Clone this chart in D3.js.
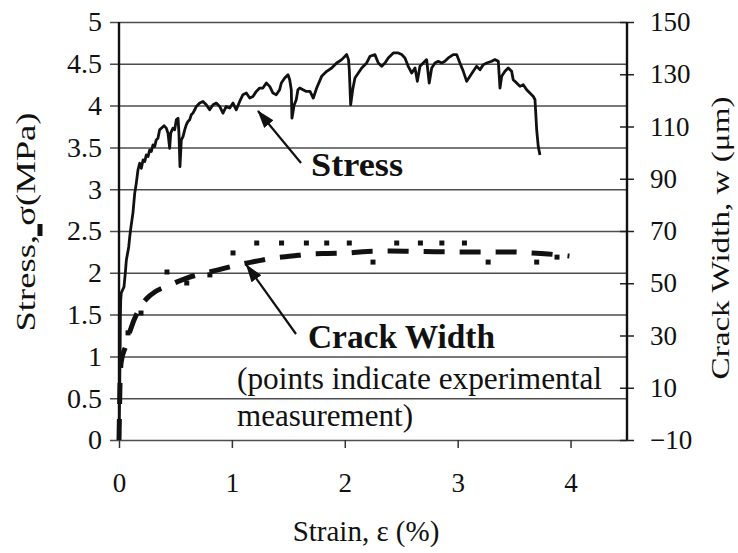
<!DOCTYPE html>
<html>
<head>
<meta charset="utf-8">
<script src="https://cdn.jsdelivr.net/npm/d3@7"></script>
<style>
  body { margin: 0; background: #fff; }
  text { font-family: "Liberation Serif", "Times New Roman", serif; fill: #111; }
</style>
</head>
<body>
<svg id="chart" width="738" height="553"></svg>
<script>
// Measured tensile response: strain (%) and stress (MPa)
const stressStrain = [
  0, 0.003, 0.005, 0.007, 0.009, 0.011, 0.012, 0.015, 0.020, 0.044,
  0.056, 0.065, 0.086, 0.095, 0.106, 0.124, 0.139, 0.153, 0.168, 0.183,
  0.198, 0.213, 0.228, 0.242, 0.257, 0.272, 0.286, 0.301, 0.316, 0.330,
  0.345, 0.360, 0.375, 0.399, 0.419, 0.434, 0.449, 0.458, 0.478, 0.493,
  0.508, 0.523, 0.531, 0.540, 0.552, 0.567, 0.582, 0.596, 0.611, 0.626,
  0.640, 0.655, 0.671, 0.685, 0.715, 0.744, 0.773, 0.803, 0.833, 0.862,
  0.892, 0.921, 0.950, 0.981, 1.010, 1.039, 1.069, 1.098, 1.128, 1.158,
  1.187, 1.216, 1.246, 1.275, 1.305, 1.335, 1.364, 1.393, 1.423, 1.438,
  1.468, 1.497, 1.512, 1.526, 1.532, 1.541, 1.550, 1.570, 1.585, 1.601,
  1.630, 1.659, 1.692, 1.721, 1.751, 1.795, 1.840, 1.884, 1.928, 1.973,
  2.017, 2.033, 2.040, 2.052, 2.070, 2.090, 2.120, 2.150, 2.194, 2.223,
  2.267, 2.297, 2.327, 2.356, 2.385, 2.430, 2.474, 2.504, 2.533, 2.562,
  2.593, 2.622, 2.643, 2.666, 2.695, 2.725, 2.748, 2.770, 2.799, 2.828,
  2.858, 2.887, 2.917, 2.961, 2.991, 3.020, 3.050, 3.080, 3.109, 3.138,
  3.168, 3.198, 3.227, 3.257, 3.301, 3.330, 3.360, 3.375, 3.390, 3.419,
  3.448, 3.478, 3.492, 3.523, 3.552, 3.581, 3.611, 3.640, 3.670, 3.685,
  3.700, 3.714, 3.729
];
const stressMPa = [
  0, 0.24, 0.48, 0.72, 0.96, 1.20, 1.44, 1.67, 1.76, 1.83,
  2.00, 2.15, 2.31, 2.43, 2.55, 2.72, 2.95, 3.07, 3.23, 3.31,
  3.25, 3.35, 3.33, 3.41, 3.39, 3.47, 3.45, 3.53, 3.51, 3.59,
  3.61, 3.71, 3.73, 3.76, 3.73, 3.67, 3.49, 3.67, 3.73, 3.71,
  3.83, 3.85, 3.67, 3.27, 3.59, 3.63, 3.71, 3.77, 3.81, 3.83,
  3.89, 3.91, 3.95, 3.99, 4.03, 4.05, 4.01, 3.95, 4.01, 4.03,
  3.99, 3.91, 3.99, 3.97, 4.03, 3.95, 4.05, 4.13, 4.15, 4.09,
  4.11, 4.17, 4.21, 4.21, 4.27, 4.23, 4.15, 4.13, 4.19, 4.27,
  4.33, 4.37, 4.31, 4.19, 3.85, 3.92, 4.00, 4.07, 4.19, 4.21,
  4.19, 4.17, 4.17, 4.09, 4.21, 4.35, 4.41, 4.45, 4.51, 4.55,
  4.61, 4.55, 4.43, 4.01, 4.19, 4.33, 4.39, 4.45, 4.51, 4.59,
  4.61, 4.51, 4.47, 4.51, 4.57, 4.63, 4.63, 4.61, 4.57, 4.47,
  4.39, 4.45, 4.29, 4.47, 4.51, 4.55, 4.27, 4.45, 4.51, 4.53,
  4.51, 4.53, 4.57, 4.61, 4.61, 4.51, 4.41, 4.29, 4.35, 4.41,
  4.47, 4.43, 4.49, 4.51, 4.53, 4.55, 4.53, 4.21, 4.35, 4.41,
  4.45, 4.41, 4.31, 4.27, 4.23, 4.25, 4.19, 4.15, 4.11, 4.07,
  3.71, 3.51, 3.41
];

// Predicted crack width (µm) against strain (%)
const modelStrain = [0, 0.004, 0.008, 0.02, 0.06, 0.10, 0.19, 0.28, 0.45, 0.60,
  0.87, 1.05, 1.20, 1.36, 1.53, 1.70, 1.85, 2.03, 2.20, 2.40,
  2.60, 2.80, 3.00, 3.20, 3.45, 3.66, 3.80, 3.99];
const modelWidth = [-10, 0, 10, 20, 26, 32, 41, 45.5, 49.3, 52,
  55, 57, 58.3, 59.6, 60.4, 61.2, 61.4, 61.6, 62.2, 62.3,
  62.2, 62.1, 62, 62, 62, 61.6, 61.2, 60.4];

// Experimentally measured crack widths
const expStrain = [0.08, 0.195, 0.425, 0.60, 0.805, 1.01, 1.22, 1.44, 1.66, 1.84,
  2.04, 2.25, 2.46, 2.67, 2.86, 3.06, 3.27, 3.70, 3.88];
const expWidth = [31, 38.6, 54.3, 50.1, 53.2, 61.6, 65.4, 65.4, 65.4, 65.4,
  65.4, 58.1, 65.4, 65.4, 65.4, 65.4, 58.1, 58.1, 60];

// Axis ticks
const stressTicks = [0, 0.5, 1, 1.5, 2, 2.5, 3, 3.5, 4, 4.5, 5];
const stressTickLabels = ["0", "0.5", "1", "1.5", "2", "2.5", "3", "3.5", "4", "4.5", "5"];
const widthTicks = [-10, 10, 30, 50, 70, 90, 110, 130, 150];
const strainTicks = [0, 1, 2, 3, 4];
const strainTickLabels = ["0", "1", "2", "3", "4"];

const svg = d3.select("#chart");
const plotLeft = 119, plotRight = 627, plotTop = 22, plotBottom = 440;

const x = d3.scaleLinear().domain([0, 4.5]).range([plotLeft, plotRight]);
const yStress = d3.scaleLinear().domain([0, 5]).range([plotBottom, plotTop]);
const yWidth = d3.scaleLinear().domain([-10, 150]).range([plotBottom, plotTop]);

const serif = "'Liberation Serif', 'Times New Roman', serif";

// Left axis; its ticks run across the plot as gridlines
const gLeft = svg.append("g")
  .attr("transform", `translate(${plotLeft},0)`)
  .call(d3.axisLeft(yStress)
    .tickValues(stressTicks)
    .tickFormat((d, i) => stressTickLabels[i])
    .tickSizeInner(-(plotRight - plotLeft))
    .tickSizeOuter(0)
    .tickPadding(17));
gLeft.attr("font-family", serif).attr("font-size", 28);
gLeft.select(".domain").remove();
gLeft.selectAll(".tick line").attr("x1", -9).attr("stroke", "#4d4d4d").attr("stroke-width", 1.5);
gLeft.selectAll(".tick text").attr("fill", "#111");

// Right axis (crack width)
const gRight = svg.append("g")
  .attr("transform", `translate(${plotRight},0)`)
  .call(d3.axisRight(yWidth)
    .tickValues(widthTicks)
    .tickSizeInner(7)
    .tickSizeOuter(0)
    .tickPadding(16));
gRight.attr("font-family", serif).attr("font-size", 27);
gRight.select(".domain").remove();
gRight.selectAll(".tick line").attr("x1", -7).attr("stroke", "#222").attr("stroke-width", 1.5);
gRight.selectAll(".tick text").attr("fill", "#111");

// Bottom axis (strain)
const gBottom = svg.append("g")
  .attr("transform", `translate(0,${plotBottom})`)
  .call(d3.axisBottom(x)
    .tickValues(strainTicks)
    .tickFormat((d, i) => strainTickLabels[i])
    .tickSizeInner(8)
    .tickSizeOuter(0)
    .tickPadding(25));
gBottom.attr("font-family", serif).attr("font-size", 27);
gBottom.select(".domain").remove();
gBottom.selectAll(".tick line").attr("stroke", "#333").attr("stroke-width", 1.5);
gBottom.selectAll(".tick text").attr("fill", "#111");

// Vertical frame lines
svg.append("line").attr("x1", plotLeft).attr("x2", plotLeft).attr("y1", plotTop).attr("y2", plotBottom)
  .attr("stroke", "#111").attr("stroke-width", 2.4);
svg.append("line").attr("x1", plotRight).attr("x2", plotRight).attr("y1", plotTop).attr("y2", plotBottom)
  .attr("stroke", "#111").attr("stroke-width", 2.4);

// Stress curve
const stressData = d3.zip(stressStrain, stressMPa);
svg.append("path")
  .datum(stressData)
  .attr("fill", "none")
  .attr("stroke", "#111")
  .attr("stroke-width", 2.8)
  .attr("stroke-linejoin", "round")
  .attr("d", d3.line().x(d => x(d[0])).y(d => yStress(d[1])));

// Crack width prediction (dashed)
const modelData = d3.zip(modelStrain, modelWidth);
svg.append("path")
  .datum(modelData)
  .attr("fill", "none")
  .attr("stroke", "#111")
  .attr("stroke-width", 5)
  .attr("stroke-dasharray", "21,15")
  .attr("d", d3.line().curve(d3.curveMonotoneX).x(d => x(d[0])).y(d => yWidth(d[1])));

// Measured crack width points
const expData = d3.zip(expStrain, expWidth);
svg.append("g").selectAll("rect")
  .data(expData)
  .join("rect")
  .attr("x", d => x(d[0]) - 2.5)
  .attr("y", d => yWidth(d[1]) - 2.5)
  .attr("width", 5)
  .attr("height", 5)
  .attr("fill", "#111");

// Arrowhead marker
svg.append("defs").append("marker")
  .attr("id", "arrowhead")
  .attr("markerUnits", "userSpaceOnUse")
  .attr("markerWidth", 18).attr("markerHeight", 12)
  .attr("refX", 17).attr("refY", 6)
  .attr("orient", "auto")
  .append("path").attr("d", "M0,0 L18,6 L0,12 Z").attr("fill", "#111");

svg.append("line").attr("x1", 301).attr("y1", 163).attr("x2", 258).attr("y2", 111)
  .attr("stroke", "#111").attr("stroke-width", 2.2).attr("marker-end", "url(#arrowhead)");
svg.append("line").attr("x1", 296).attr("y1", 334).attr("x2", 246.5).attr("y2", 265)
  .attr("stroke", "#111").attr("stroke-width", 2.2).attr("marker-end", "url(#arrowhead)");

// Curve annotations
svg.append("text").attr("x", 311).attr("y", 176)
  .attr("font-size", 34).attr("font-weight", "bold")
  .attr("textLength", 92).attr("lengthAdjust", "spacingAndGlyphs")
  .text("Stress");
svg.append("text").attr("x", 308).attr("y", 348)
  .attr("font-size", 33).attr("font-weight", "bold")
  .attr("textLength", 187).attr("lengthAdjust", "spacingAndGlyphs")
  .text("Crack Width");
svg.append("text").attr("x", 237).attr("y", 389)
  .attr("font-size", 31)
  .attr("textLength", 365).attr("lengthAdjust", "spacingAndGlyphs")
  .text("(points indicate experimental");
svg.append("text").attr("x", 237).attr("y", 426)
  .attr("font-size", 31)
  .attr("textLength", 176).attr("lengthAdjust", "spacingAndGlyphs")
  .text("measurement)");

// Axis titles
svg.append("text").attr("x", 366).attr("y", 541)
  .attr("text-anchor", "middle").attr("font-size", 29)
  .text("Strain, ε (%)");

svg.append("text")
  .attr("transform", "translate(35,222) rotate(-90)")
  .attr("text-anchor", "middle").attr("font-size", 27)
  .attr("textLength", 219).attr("lengthAdjust", "spacingAndGlyphs")
  .text("Stress, σ(MPa)");
// bar under the sigma symbol
svg.append("rect").attr("x", 37.5).attr("y", 224).attr("width", 5).attr("height", 12).attr("fill", "#111");

svg.append("text")
  .attr("transform", "translate(729,238) rotate(-90)")
  .attr("text-anchor", "middle").attr("font-size", 25)
  .attr("textLength", 283).attr("lengthAdjust", "spacingAndGlyphs")
  .text("Crack Width, w (μm)");
</script>
</body>
</html>
